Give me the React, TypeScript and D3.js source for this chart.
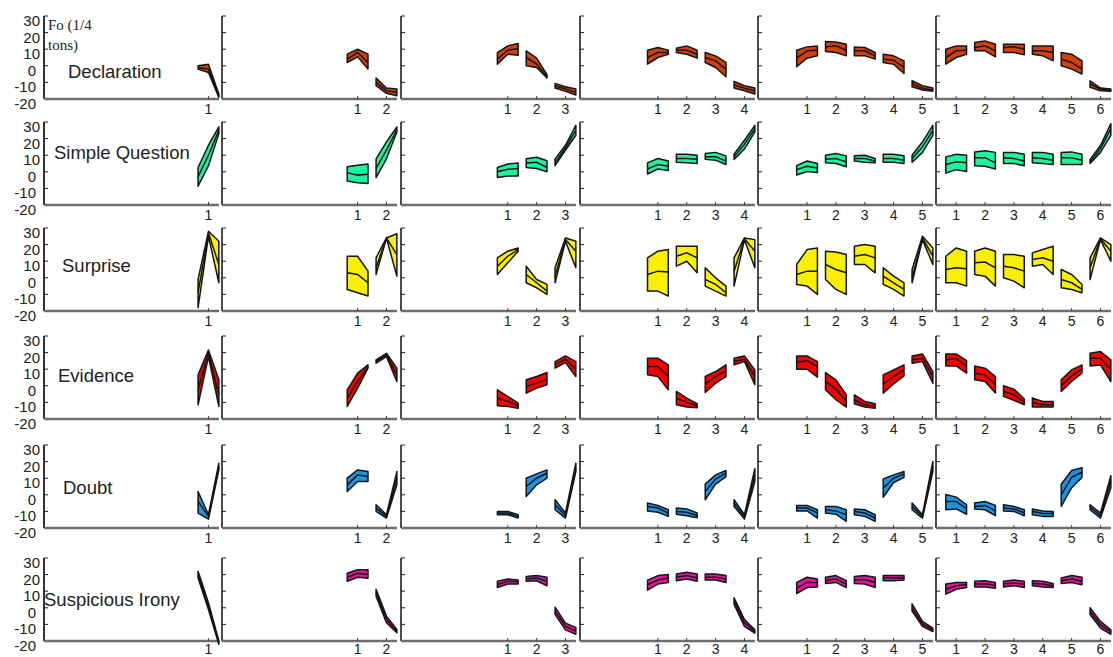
import React from 'react'
import * as d3 from 'd3'

// each segment: [hi start, hi mid, hi end, mid start, mid mid, mid end, lo start, lo mid, lo end]
type Seg = number[]

const emotions = ['Declaration', 'Simple Question', 'Surprise', 'Evidence', 'Doubt', 'Suspicious Irony']
const fills = ['#d0400c', '#1cf3a0', '#f8f000', '#f60000', '#1a95e6', '#e4149c']
const yTicks = [30, 20, 10, 0, -10, -20]

const declaration: Seg[][] = [
  [[0, 1, -17, -1, -2, -18, -2, -4, -19]],
  [[7, 10, 7, 4, 8, 2, 2, 5.4, -2], [-7.4, -13.4, -14, -10, -15, -16, -12, -16.6, -18]],
  [[8, 12, 13.4, 4, 9.4, 10.4, 1, 7, 6.4], [9, 4.6, -5.4, 5, 1, -6.6, 0, -1, -7.4], [-10.6, -12.6, -14, -12, -14, -16, -13.4, -15.4, -17.6]],
  [[9.4, 11, 9.4, 5, 8, 8, 1, 5, 7], [10.6, 12, 9.4, 9.4, 9.4, 7, 8, 7, 4.6], [8, 6, 2, 5, 3, -2, 2, -1, -6.6], [-9.4, -12, -13.4, -11.5, -13.5, -15, -13.4, -15, -17]],
  [[9.4, 11.4, 12, 4.6, 9, 9.4, -0.6, 4.6, 6], [14.6, 14.4, 13, 11.4, 12, 9.4, 8.6, 8, 6], [11.4, 11, 8, 9, 9, 6, 6, 6, 4], [7, 6, 3, 4, 3.4, -1, 2, 1, -4.6], [-9, -12, -13.4, -11, -13.5, -14.5, -12.6, -14.6, -15.4]],
  [[10, 12, 12, 5, 9, 9.4, 1, 5, 7], [14, 15, 13, 11, 12, 9, 9, 9, 5.4], [13, 13, 13, 11, 11.4, 10, 8, 8, 6.6], [12, 12, 12, 9, 9, 8, 7, 6, 3], [8, 7, 3, 4, 2, -2, 0, -2, -5], [-9, -13.4, -14, -11, -14, -14.8, -13, -15, -15.4]],
]

const simpleQuestion: Seg[][] = [
  [[2.6, 16, 27, -3, 10, 25, -8.7, 3.7, 23]],
  [[3, 4, 4.7, -0.5, -2, -1.5, -5.6, -6.6, -7], [7.8, 18, 27, 2, 13, 25.5, -3.5, 7.8, 24]],
  [[2.6, 4.7, 5.3, 0, 1.5, 2, -3.5, -2.5, -2.5], [7.8, 8.8, 6.7, 5.3, 5.7, 2.6, 2.6, 2, 0], [7.8, 16, 28, 5.5, 14.5, 25, 3.7, 13, 22]],
  [[5.4, 8, 6.5, 1.7, 4.4, 3.3, -1.3, 1.7, 0.8], [10.6, 10.6, 10, 8, 8, 7.5, 5.8, 5.4, 5], [11, 11.7, 9.6, 9, 9, 6.5, 7.5, 7, 4.4], [10.6, 19, 28, 9, 16.5, 26, 7.5, 13.7, 24]],
  [[3.7, 6.5, 5, 1.3, 3.3, 2.3, -1.9, 0.2, -0.4], [10, 11, 9.6, 7.5, 8, 6, 5.4, 5, 3], [9.6, 10, 8, 8, 8, 6.5, 6.5, 5.8, 5.4], [10.6, 10.6, 9.6, 8, 8, 7, 5.8, 5.8, 5], [10, 18, 28, 8, 15, 25, 5.8, 11.7, 22]],
  [[9, 10.6, 10, 4.4, 6, 5.4, -0.8, 1.3, 0.2], [12, 12.7, 11.7, 8.5, 8.5, 5.4, 3.7, 3.3, 1.7], [11.7, 11.7, 10.6, 8.5, 8, 6.5, 5, 5, 3.7], [11.7, 11.7, 10.6, 8.5, 8, 7, 5.4, 5, 4.4], [11.7, 12, 10.6, 8.5, 8.5, 7, 4.4, 4.4, 4.4], [7.5, 15.8, 29, 6, 14, 26, 5, 11.7, 22]],
]

const surprise: Seg[][] = [
  [[-1, 28, 22, -9, 27, 8, -18, 25, -3]],
  [[13, 13, 4, 3, 2, -3, -7, -9, -11], [12, 24, 26.5, 6, 24, 14, 2, 24, 1]],
  [[12, 16, 18, 7, 13, 17, 2, 9, 16], [7, -1, -4, 2, -3, -8, -3, -6, -10], [6, 24, 22, 1, 23, 16, -3, 22, 6]],
  [[12, 16, 17, 2, 4, 3.5, -8, -8, -11], [19, 19, 19, 13, 15, 12, 7, 10, 3], [6, 0, -5, -1, -4, -9, -5, -8, -11], [12, 24, 23, 4, 23.5, 16, -5, 23, 6]],
  [[8, 17, 18, 2, 4, 4, -4, -5, -10], [16, 15.5, 14, 8, 5, 3, -1, -7, -10], [19, 20, 19, 13, 14, 12, 8, 8, 3], [6, 1, -3, 1, -3, -7, -4, -7, -11], [5, 25, 18, 0, 24, 13, -3, 23, 8]],
  [[13, 18, 16, 5, 6, 5.5, -3, -3, -5], [16, 18, 16, 9, 9.5, 6, 2, 1, -5], [14, 14, 13, 7, 6, 4, 0, -2, -6], [15, 17, 19, 11, 12, 10, 7, 8, 2], [5, 2, -4, -1, -3, -7, -6, -7, -9], [12, 24, 20, 6, 23.5, 16, -1, 23, 10]],
]

const evidence: Seg[][] = [
  [[6.6, 21.6, 3.6, -2.4, 19.6, -5.4, -11.4, 17.6, -12.4]],
  [[-2.4, 7.6, 12.6, -7.4, 2.6, 11.6, -12.4, -1.4, 10.6], [15.6, 19.6, 10.6, 14.6, 18.6, 6.6, 13.6, 17.6, 2.6]],
  [[-2.4, -6.4, -10.4, -7.4, -9.4, -12, -12, -12.4, -13.6], [3.6, 5.6, 8, -0.4, 1.6, 4, -4.4, -1.4, 0.6], [14.6, 18, 14.6, 12.6, 16, 10, 10.6, 14, 5.6]],
  [[16.6, 16.6, 12.6, 11.6, 11.6, 5.6, 6.6, 5.6, -2.4], [-3.4, -7.4, -10.8, -7.4, -10, -12, -11.4, -12.8, -13.2], [5.6, 8.6, 12.6, 1.2, 5.6, 9.2, -4, 1.6, 5.6], [16.6, 18, 9.6, 14.6, 16, 5.6, 12.6, 14.6, 0.6]],
  [[18, 18, 14.6, 14, 15.2, 11.6, 10, 10, 5.2], [8, 3.6, -5.4, 2.6, -2, -9.4, -2.4, -8.4, -12.8], [-5.4, -9.4, -10.8, -8.4, -11.4, -12.4, -10.8, -12.8, -13.6], [6.6, 9.6, 12.6, 1.2, 5.6, 9.6, -4.4, 1.2, 6], [18, 19.2, 8.6, 15.6, 16.6, 5.6, 13.6, 14.6, 1.6]],
  [[19.2, 19.2, 15.2, 15.6, 16.6, 11.6, 12, 12, 7.6], [12, 10.6, 5.6, 7.6, 6.6, 0.6, 3.6, 2.6, -4.4], [0, -2, -8, -3.4, -5.4, -10, -6.4, -8.8, -11.4], [-7.4, -9.4, -9.4, -10, -11.4, -11.4, -12.8, -12.8, -12.8], [3.6, 9.6, 12.6, 0, 6, 10, -3.4, 2.6, 7.6], [19.6, 20.6, 15.6, 16.6, 16.6, 9.6, 12, 12.6, 2.6]],
]

const doubt: Seg[][] = [
  [[2, -12, 19, -4, -13, 17, -11, -14.7, 15]],
  [[10, 15, 14, 6, 12, 11, 2, 8, 8], [-6, -12, 14, -8, -13, 10, -10, -14, 6]],
  [[-10, -10, -12, -11, -11, -13, -12, -12, -14], [10, 12.6, 15, 5, 10, 13, -1, 6, 10], [-3, -11, 19, -6, -12.5, 16, -9, -14, 14]],
  [[-5, -6.4, -9, -7, -8, -11, -9.7, -10.5, -13], [-8, -8.5, -11, -10, -10.5, -12.5, -11.7, -12.6, -13.8], [6.4, 12, 14.6, 2, 9.5, 13, -3, 6.4, 11], [-3, -12, 15.7, -5, -13.3, 12, -7, -14.6, 8]],
  [[-6.4, -6.4, -9, -8, -8, -11, -9.7, -9.7, -14], [-7, -7, -9, -9, -9.7, -12, -11, -11.7, -16], [-8.5, -9, -12, -10, -11, -14, -12, -13, -16], [9.5, 12, 14, 4, 10, 12.6, -1.5, 7.4, 10.5], [-5, -12, 20, -7, -13, 17, -9, -14, 14]],
  [[0.2, -1.4, -6, -4, -4, -8.5, -9, -8.5, -11.7], [-5, -4, -6.4, -7, -6.4, -9.7, -8.5, -9, -12.6], [-6, -7, -9, -8, -8.5, -10.8, -9.7, -10, -12.6], [-8.5, -9.7, -10, -10, -11.3, -11.3, -12, -13, -13], [6.4, 14.6, 16.3, 0, 10.5, 13.6, -7, 4.3, 10.5], [-6, -11, 11.5, -7.5, -12.5, 8, -9, -14, 4.3]],
]

const suspiciousIrony: Seg[][] = [
  [[22, 3, -20, 20, 1, -21, 18, -1, -22]],
  [[20.8, 22.9, 22.9, 18.4, 20.8, 20, 16, 18.4, 17.8], [11.2, -5, -13, 9, -7, -14, 7, -9, -15]],
  [[16, 17.3, 16.7, 14, 16, 15.7, 12.2, 14.3, 14.3], [18.8, 19.4, 18.4, 17.3, 18, 16, 16, 16.3, 13.3], [0.4, -9.2, -11.8, -2, -11, -14, -4, -13.3, -16]],
  [[16.7, 19.4, 20, 14, 16.7, 18, 10.6, 14.3, 15.3], [20.4, 21.4, 20.4, 18.4, 19.4, 18, 16.3, 17.3, 16], [20.4, 20.4, 19.4, 18.4, 18.4, 17.3, 16.7, 16.7, 15.3], [6, -7.1, -13.3, 4, -9, -14.3, 2, -11.2, -15.3]],
  [[15.3, 18.4, 17.3, 11.8, 15.3, 15.3, 8.6, 12.2, 12.6], [18.4, 19.4, 16.3, 16.5, 17.3, 14.3, 14.7, 15.3, 12.2], [18.8, 19.4, 18.4, 16.7, 17, 15.3, 14.7, 14.3, 12.2], [19.4, 19.4, 19.4, 18, 18, 18, 16.3, 16.3, 16.7], [2.4, -8.2, -12.2, 0, -9.7, -13.3, -2, -11.2, -14.3]],
  [[14.3, 15.3, 15.3, 11.2, 13.3, 14, 8.2, 11.2, 12.2], [16, 16.3, 15.3, 14.3, 14.5, 13.5, 12.6, 12.6, 11.8], [16, 16.7, 16, 14.3, 15, 14, 12.6, 13.3, 12.2], [16.3, 16, 14.7, 14.7, 14.3, 13.3, 13.3, 12.6, 12.2], [18, 19.4, 18.4, 16.3, 17.3, 16, 14.7, 15.3, 13.9], [0, -8.2, -13.3, -2, -10.2, -14.6, -4, -12.2, -16]],
]

const series = [declaration, simpleQuestion, surprise, evidence, doubt, suspiciousIrony]

// layout
const W = 1113
const H = 657
const colLeft = [44, 222, 401, 580, 758, 936]
const panelW = 176
const rowBottom = [99, 205, 311, 419, 528, 641]
const panelH = 83
const labelX = [68, 54, 62, 58, 63, 44]
const labelY = [72, 153, 266, 376, 488, 600]
const segOffsets = [-0.36, 0, 0.36]
const font = 'Liberation Sans, Arial, sans-serif'

function Panel({ r, c }: { r: number; c: number }) {
  const n = c + 1
  const x = d3.scaleLinear().domain([n - 5.7, n + 0.4]).range([colLeft[c], colLeft[c] + panelW])
  const y = d3.scaleLinear().domain([-20, 30]).range([rowBottom[r], rowBottom[r] - panelH])
  const line = d3.line<[number, number]>().x(d => x(d[0])).y(d => y(d[1]))
  const segs = series[r][c]
  const ticksX = d3.range(1, n + 1)
  const x0 = colLeft[c]
  // keep the last row's tick labels inside the picture
  const tickLabelY = Math.min(y(-20) + 15, H - 3)

  return (
    <g>
      {/* y axis */}
      <line x1={x0} x2={x0} y1={y(30)} y2={y(-20)} stroke={c === 0 ? '#333' : '#111'} strokeWidth={c === 0 ? 2 : 1.5} />
      {yTicks.filter(v => v > -20).map(v => (
        <line key={v} x1={x0} x2={x0 + 4} y1={y(v)} y2={y(v)} stroke="#222" strokeWidth={1} />
      ))}
      {/* x axis */}
      <line x1={x0} x2={x0 + panelW - 1} y1={y(-20)} y2={y(-20)} stroke="#6e6e6e" strokeWidth={2.5} />
      {ticksX.map(t => (
        <g key={t}>
          <line x1={x(t)} x2={x(t)} y1={y(-20)} y2={y(-20) - 3} stroke="#444" strokeWidth={1} />
          <text x={x(t)} y={tickLabelY} textAnchor="middle" fontSize={14} fill="#222" fontFamily={font}>{t}</text>
        </g>
      ))}
      {/* syllable bands */}
      {segs.map((s, k) => {
        const xs = segOffsets.map(o => k + 1 + o)
        const hi = xs.map((xx, j) => [xx, s[j]] as [number, number])
        const md = xs.map((xx, j) => [xx, s[3 + j]] as [number, number])
        const lo = xs.map((xx, j) => [xx, s[6 + j]] as [number, number]).reverse()
        return (
          <g key={k}>
            <path d={line(hi.concat(lo)) + 'Z'} fill={fills[r]} stroke="#151515" strokeWidth={1.5} strokeLinejoin="round" />
            <path d={line(md) || ''} fill="none" stroke="#151515" strokeWidth={1.5} />
          </g>
        )
      })}
    </g>
  )
}

export default function App() {
  return (
    <div style={{ position: 'absolute', left: 0, top: 0 }}>
      <svg width={W} height={H} style={{ display: 'block', background: '#fff' }}>
        {emotions.map((e, r) => {
          const yl = d3.scaleLinear().domain([-20, 30]).range([rowBottom[r], rowBottom[r] - panelH])
          return (
            <g key={e}>
              {yTicks.map(v => (
                <text key={v} x={v > 0 ? 40 : 36} y={yl(v) + 10} textAnchor="end" fontSize={15} fill="#222" fontFamily={font}>{v}</text>
              ))}
              {d3.range(6).map(c => <Panel key={c} r={r} c={c} />)}
              <text x={labelX[r]} y={labelY[r] + 6} fontSize={18.5} fill="#222" fontFamily={font}>{e}</text>
            </g>
          )
        })}
        <text x={48} y={30} fontSize={15} fill="#222" fontFamily="Liberation Serif, Times New Roman, serif">Fo (1/4</text>
        <text x={48} y={50} fontSize={15} fill="#222" fontFamily="Liberation Serif, Times New Roman, serif">tons)</text>
      </svg>
    </div>
  )
}
